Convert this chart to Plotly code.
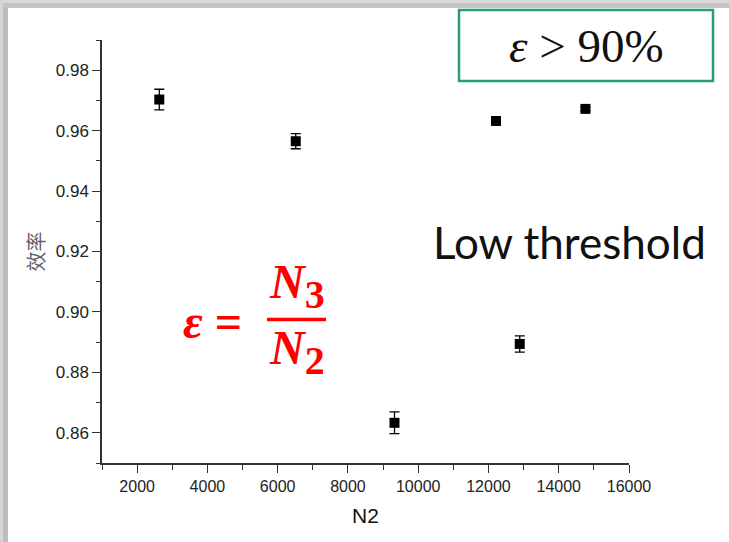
import plotly.graph_objects as go

# Measured detection efficiency versus N2 (with statistical error)
n2 = [2630, 6515, 9325, 12215, 12890, 14760]
efficiency = [0.9703, 0.9565, 0.8633, 0.9632, 0.8894, 0.9672]
efficiency_err = [0.0034, 0.0025, 0.0036, 0.0010, 0.0027, 0.0006]

x_tick_vals = [2000, 4000, 6000, 8000, 10000, 12000, 14000, 16000]
x_tick_text = ["2000", "4000", "6000", "8000", "10000", "12000", "14000", "16000"]
y_tick_vals = [0.86, 0.88, 0.90, 0.92, 0.94, 0.96, 0.98]
y_tick_text = ["0.86", "0.88", "0.90", "0.92", "0.94", "0.96", "0.98"]

W, H = 729, 542
ML, MR, MT, MB = 102, 100, 40, 79


def px(x):
    """Pixel column -> paper x."""
    return (x - ML) / (W - ML - MR)


def py(y):
    """Pixel row -> paper y."""
    return (H - MB - y) / (H - MT - MB)


fig = go.Figure()
fig.add_trace(go.Scatter(
    x=n2, y=efficiency,
    mode="markers",
    marker=dict(symbol="square", size=10, color="black"),
    error_y=dict(type="data", array=efficiency_err, visible=True,
                 color="black", thickness=1.3, width=5),
    showlegend=False,
))

sans = "Liberation Sans, Arial, sans-serif"
axis_color = "#333333"

fig.update_xaxes(
    range=[1000, 16000], tickvals=x_tick_vals, ticktext=x_tick_text,
    showline=True, linecolor=axis_color, linewidth=1.5,
    ticks="outside", ticklen=8, tickwidth=1.3, tickcolor=axis_color,
    minor=dict(dtick=1000, tick0=1000, ticks="outside", ticklen=5,
               tickwidth=1.2, tickcolor=axis_color),
    showgrid=False, zeroline=False,
    tickfont=dict(family=sans, size=16, color="#222222"),
    title=dict(text="N2", font=dict(family=sans, size=21, color="#111111"), standoff=14),
    automargin=True,
)
fig.update_yaxes(
    range=[0.85, 0.99], tickvals=y_tick_vals, ticktext=y_tick_text,
    showline=True, linecolor=axis_color, linewidth=1.5,
    ticks="outside", ticklen=8, tickwidth=1.3, tickcolor=axis_color,
    minor=dict(dtick=0.01, tick0=0.85, ticks="outside", ticklen=4,
               tickwidth=1.2, tickcolor=axis_color),
    showgrid=False, zeroline=False,
    tickfont=dict(family=sans, size=17, color="#222222"),
    title=dict(text="效率", font=dict(family="Noto Sans CJK SC", size=20,
                                      color="#5f5f66"), standoff=6),
    automargin=True,
)

shapes = [
    # soft grey frame along the top and left edges
    dict(type="rect", xref="paper", yref="paper", x0=px(0), x1=px(W), y0=py(0), y1=py(3),
         line=dict(width=0), fillcolor="#d9d9d9", layer="below"),
    dict(type="rect", xref="paper", yref="paper", x0=px(0), x1=px(W), y0=py(3), y1=py(8),
         line=dict(width=0), fillcolor="#c4c4c4", layer="below"),
    dict(type="rect", xref="paper", yref="paper", x0=px(0), x1=px(3), y0=py(0), y1=py(H),
         line=dict(width=0), fillcolor="#d6d6d6", layer="below"),
    dict(type="rect", xref="paper", yref="paper", x0=px(3), x1=px(8), y0=py(8), y1=py(H),
         line=dict(width=0), fillcolor="#bdbdbd", layer="below"),
    # framed condition box
    dict(type="rect", xref="paper", yref="paper", x0=px(459), x1=px(713), y0=py(10), y1=py(81),
         line=dict(color="#2a9d78", width=2.5), fillcolor="white"),
    # fraction bar of the efficiency definition
    dict(type="line", xref="paper", yref="paper", x0=px(267), x1=px(326), y0=py(319.5), y1=py(319.5),
         line=dict(color="#ff0000", width=3.5)),
]

serif = "Liberation Serif, DejaVu Serif, serif"
red_font = dict(family=serif, size=48, color="#ff0000")
annotations = [
    dict(text="<i>ε</i> > 90%", x=px(586), y=py(46), xref="paper", yref="paper",
         xanchor="center", yanchor="middle", showarrow=False,
         font=dict(family=serif, size=47, color="#111111")),
    dict(text="Low threshold", x=px(431), y=py(242), xref="paper", yref="paper",
         xanchor="left", yanchor="middle", showarrow=False,
         font=dict(family="Lato, Open Sans, sans-serif", size=44, color="#111111")),
    dict(text="<b><i>ε</i> = </b>", x=px(181), y=py(321), xref="paper", yref="paper",
         xanchor="left", yanchor="middle", showarrow=False, font=red_font),
    dict(text='<b><i>N</i><sub><span style="font-size:40px">3</span></sub></b>',
         x=px(267), y=py(286), xref="paper", yref="paper",
         xanchor="left", yanchor="middle", showarrow=False, font=red_font),
    dict(text='<b><i>N</i><sub><span style="font-size:40px">2</span></sub></b>',
         x=px(267), y=py(352), xref="paper", yref="paper",
         xanchor="left", yanchor="middle", showarrow=False, font=red_font),
]

fig.update_layout(
    width=W, height=H,
    margin=dict(l=ML, r=MR, t=MT, b=MB),
    paper_bgcolor="white", plot_bgcolor="white",
    shapes=shapes, annotations=annotations,
)

fig.write_html("out.html")
